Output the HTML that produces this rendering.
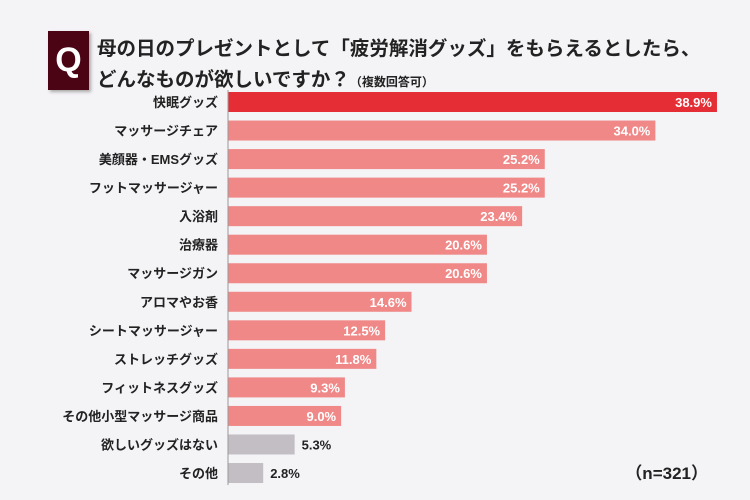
<!DOCTYPE html>
<html><head><meta charset="utf-8"><style>
body{margin:0;width:750px;height:500px;background:#f4f3f6;font-family:"Liberation Sans","Noto Sans CJK JP",sans-serif;overflow:hidden;position:relative}
.q{position:absolute;left:48px;top:31px;width:41px;height:59px;background:#4a0414;color:#fff;font-weight:bold;font-size:34px;display:flex;align-items:center;justify-content:center;box-shadow:2px 2px 3px #aaa}
.t{position:absolute;left:97px;font-weight:bold;font-size:19.5px;color:#222;white-space:nowrap}
.t small{font-size:12px}
</style></head><body>
<div class="q">Q</div>
<div class="t" style="top:32px">母の日のプレゼントとして「疲労解消グッズ」をもらえるとしたら、</div>
<div class="t" style="top:63px">どんなものが欲しいですか？<small>（複数回答可）</small></div>
<svg id="c" width="750" height="500" style="position:absolute;left:0;top:0"></svg>
<script>
const categories=["快眠グッズ","マッサージチェア","美顔器・EMSグッズ","フットマッサージャー","入浴剤","治療器","マッサージガン","アロマやお香","シートマッサージャー","ストレッチグッズ","フィットネスグッズ","その他小型マッサージ商品","欲しいグッズはない","その他"];
const values=[38.9,34.0,25.2,25.2,23.4,20.6,20.6,14.6,12.5,11.8,9.3,9.0,5.3,2.8];
const grey=[false,false,false,false,false,false,false,false,false,false,false,false,true,true];
const svg=document.getElementById('c');const NS='http://www.w3.org/2000/svg';
const x0=228,k=12.57,y0=102,step=28.54,bh=20;
const x=v=>x0+v*k, y=i=>y0+i*step;
function mk(t,a){const e=document.createElementNS(NS,t);for(const n in a)e.setAttribute(n,a[n]);svg.appendChild(e);return e;}
categories.forEach((c,i)=>{
 const cy=y(i);
 const r=mk('rect',{x:x0,y:cy-bh/2,width:x(values[i])-x0,height:bh,fill:i==0?'#e52d35':(grey[i]?'#c3bec4':'#f08888')});
 
 
 const l=mk('text',{x:218,y:cy+5,'text-anchor':'end','font-size':13,'font-weight':'bold',fill:'#222'});
 l.textContent=c;
 
 
 const inside=!grey[i];
 const v=mk('text',{x:inside?x(values[i])-5:x(values[i])+7,y:cy+5,'text-anchor':inside?'end':'start','font-size':13,'font-weight':'bold',fill:inside?'#fff':'#222'});
 v.textContent=values[i].toFixed(1)+'%';
 
 
});
const ax=mk('line',{x1:x0,x2:x0,y1:y(0)-bh/2-2,y2:y(13)+bh/2+2,stroke:'#999','stroke-width':1});


const n=mk('text',{x:708,y:479,'text-anchor':'end','font-size':17,'font-weight':'bold',fill:'#222'});
n.textContent='（n=321）';


</script>
</body></html>
